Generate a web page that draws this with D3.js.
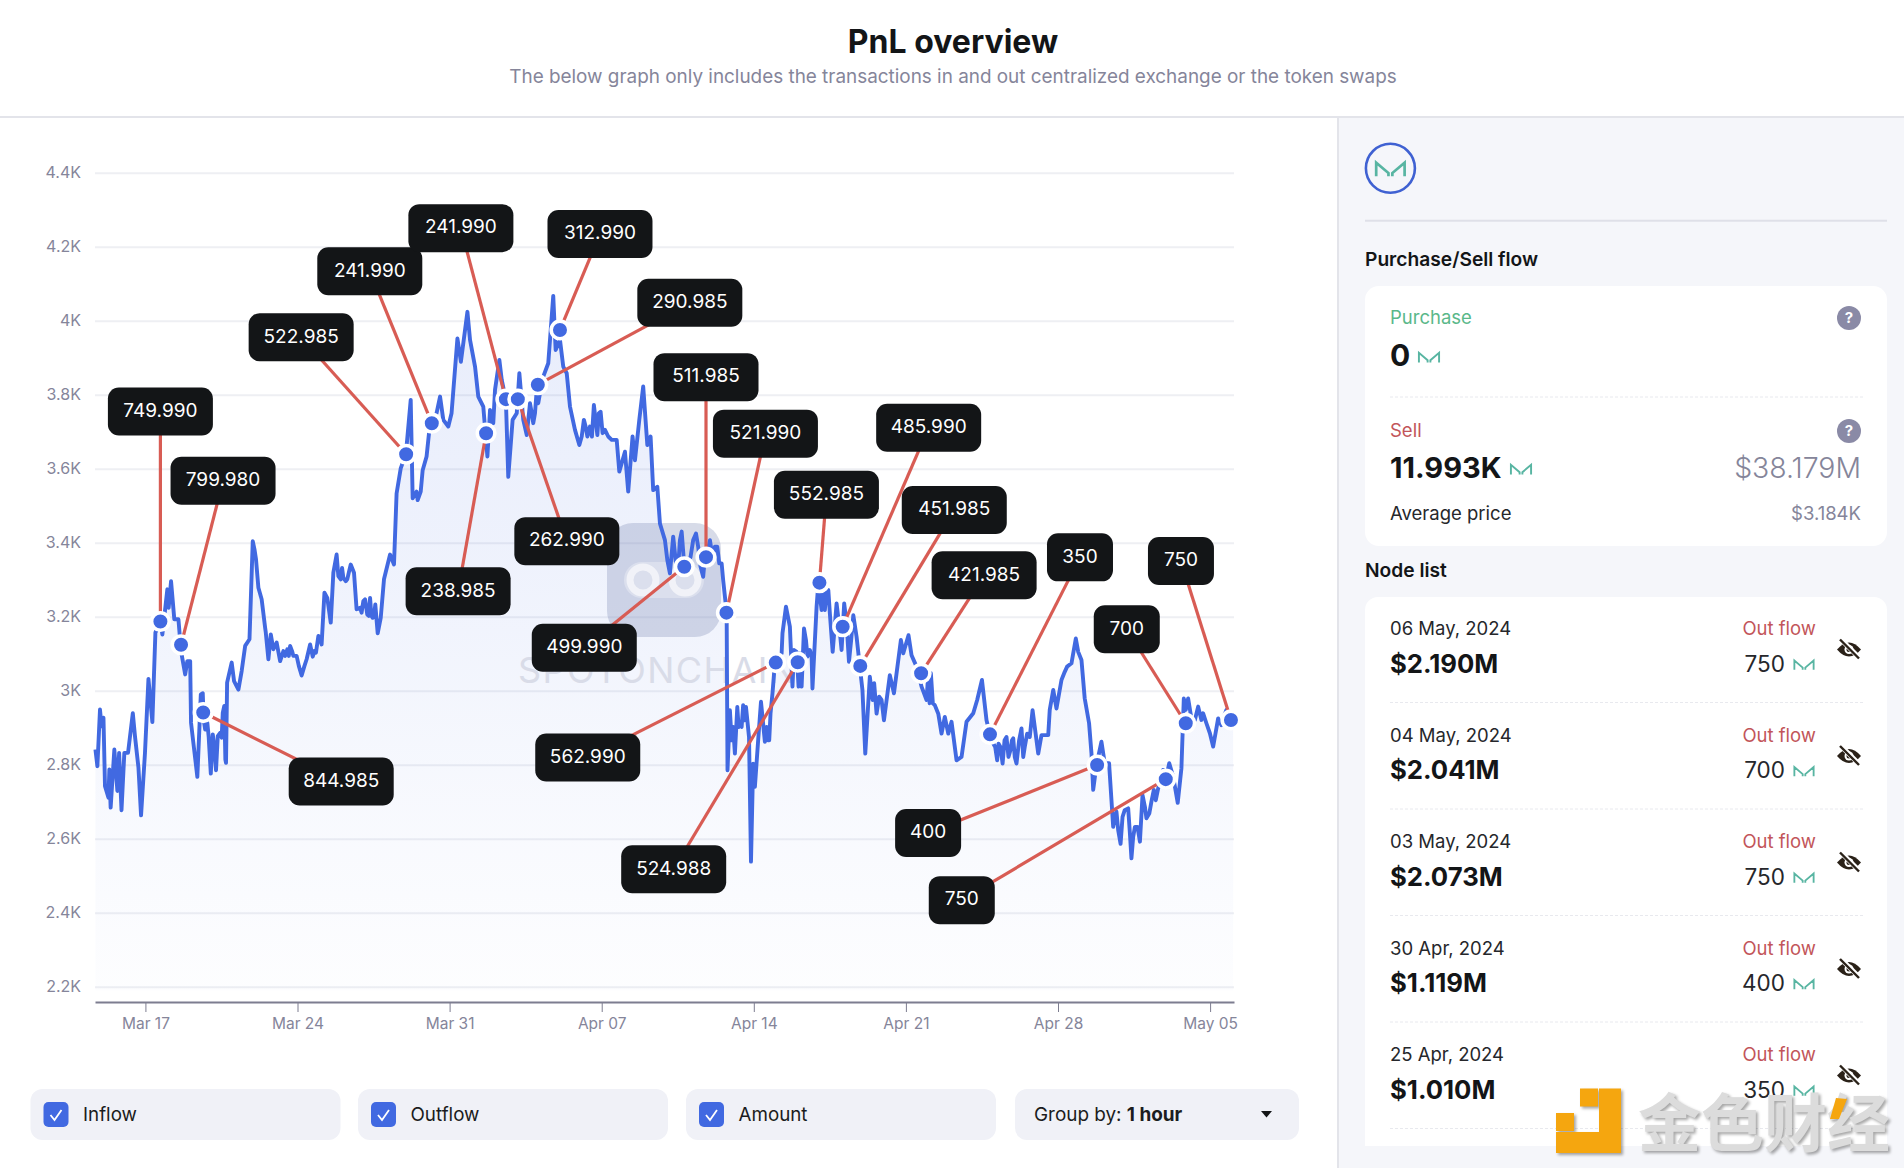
<!DOCTYPE html>
<html>
<head>
<meta charset="utf-8">
<script src="https://cdn.jsdelivr.net/npm/d3@7"></script>
<style>
  html, body { margin: 0; background: #fff; }
  svg { display: block; font-family: Inter, "Noto Sans", sans-serif; }
</style>
</head>
<body>
<svg id="pnl" width="1904" height="1168"></svg>
<script>
// Price line. Days are counted from Mar 17, 2024
const priceDay = [-2.30,-2.21,-2.09,-2.02,-1.93,-1.86,-1.70,-1.66,-1.60,-1.43,-1.29,-1.21,-1.10,-0.97,-0.80,-0.58,-0.48,-0.32,-0.20,-0.02,0.14,0.32,0.46,0.69,0.78,1.01,1.07,1.18,1.33,1.52,1.64,1.83,1.93,2.06,2.10,2.39,2.55,2.64,2.75,2.85,3.01,3.10,3.25,3.33,3.51,3.56,3.71,3.76,3.97,4.08,4.28,4.43,4.59,4.79,4.94,5.02,5.09,5.20,5.35,5.51,5.66,5.77,5.89,6.04,6.20,6.35,6.66,6.81,6.96,7.19,7.42,7.58,7.70,7.85,7.96,8.11,8.24,8.37,8.53,8.65,8.80,8.99,9.05,9.22,9.45,9.60,9.72,10.03,10.21,10.34,10.46,10.58,10.69,10.83,10.98,11.26,11.44,
  11.56,11.75,11.99,12.21,12.30,12.48,12.53,12.67,12.76,12.94,13.10,13.40,13.56,13.71,13.94,14.09,14.36,14.52,14.82,14.94,15.17,15.32,15.55,15.74,15.86,16.01,16.09,16.29,16.40,16.59,16.70,16.90,17.09,17.21,17.39,17.55,17.70,17.85,18.01,18.31,18.54,18.77,18.88,19.08,19.23,19.39,19.54,19.77,19.97,20.18,20.34,20.64,20.80,20.95,21.15,21.46,21.69,21.81,22.07,22.22,22.42,22.53,22.73,22.91,23.10,23.25,23.37,23.56,23.68,23.91,24.14,24.29,24.52,24.68,24.91,25.09,25.34,25.67,25.83,26.21,26.52,26.59,26.75,
  26.79,26.90,27.05,27.13,27.24,27.36,27.51,27.64,27.78,27.87,27.97,28.05,28.20,28.33,28.51,28.71,28.86,28.97,29.28,29.32,29.48,29.66,29.78,29.97,30.20,30.31,30.58,30.70,30.89,30.97,31.12,31.43,31.63,31.81,32.04,32.16,32.38,32.58,32.73,32.88,33.00,33.13,33.34,33.65,33.77,33.99,34.26,34.45,34.77,34.88,35.12,35.26,35.49,35.72,35.95,36.15,36.33,36.64,36.79,37.10,37.33,37.56,37.79,38.10,38.28,38.50,38.71,38.86,39.02,39.20,39.35,39.45,39.63,39.81,39.94,40.09,40.32,40.47,40.70,40.83,41.09,
  41.24,41.55,41.62,41.78,41.93,42.16,42.31,42.42,42.62,42.82,42.93,43.08,43.23,43.43,43.54,43.62,43.77,44.00,44.15,44.35,44.54,44.69,44.88,45.07,45.23,45.38,45.54,45.77,45.89,46.07,46.30,46.61,46.84,47.12,47.30,47.51,47.68,47.79,47.99,48.14,48.45,48.60,48.83,49.14,49.37,49.52,49.75,50.06];
const priceValue = [2841,2796,2949,2904,2927,2742,2711,2787,2684,2841,2729,2832,2677,2832,2832,2939,2877,2792,2663,2832,3032,2915,3157,3188,3152,3274,3224,3296,3193,3193,3107,3044,3080,3080,2913,2767,2990,2993,2895,2913,2776,2882,2785,2877,2873,2940,2805,3022,3076,3026,3003,3053,3121,3139,3404,3382,3355,3278,3247,3170,3085,3152,3112,3130,3080,3107,3121,3094,3094,3041,3085,3125,3092,3103,3148,3125,3265,3251,3184,3319,3368,3301,3332,3296,3341,3319,3220,3242,3206,3251,3197,3233,3155,3197,3301,3368,3341,
  3533,3601,3641,3786,3520,3538,3515,3538,3596,3633,3723,3750,3795,3732,3714,3750,3952,3889,4024,3948,3876,3795,3768,3633,3759,3723,3813,3894,3840,3786,3578,3732,3750,3858,3732,3691,3777,3723,3813,3849,3885,4067,3921,3948,3876,3858,3768,3705,3664,3732,3687,3772,3691,3754,3705,3678,3678,3592,3646,3538,3687,3623,3732,3822,3664,3687,3542,3551,3452,3407,3317,3416,3335,3430,3335,3362,3425,3308,3362,3389,3344,3299,3211,
  2785,2947,2902,2830,2956,2911,2961,2956,2875,2538,2803,2740,2866,2970,2862,2866,2993,3074,3101,3155,3227,3173,3011,3105,3011,3168,3110,3006,3227,3290,3218,3272,3105,3236,3110,3236,3078,3204,3146,3065,3002,2830,3038,2938,2984,2920,3042,2993,3137,3101,3150,3096,3065,3011,2975,3047,2961,2884,2929,2916,2812,2821,2916,2939,2975,3029,2920,2884,2857,2812,2848,2803,2875,2839,2871,2803,2898,2848,2875,2947,2830,
  2880,2880,2948,3002,2952,3029,3051,3065,3074,3141,3105,3083,2979,2912,2831,2732,2799,2862,2804,2804,2632,2673,2586,2677,2682,2547,2632,2592,2718,2655,2700,2736,2786,2804,2768,2697,2790,2979,2979,2925,2957,2921,2912,2849,2925,2907,2948,2921];

// second pass of readings on the busier stretches of the line
const detailDay = [2.68,2.91,3.17,3.44,3.63,3.68,5.54,6.43,6.53,6.60,6.75,7.06,7.32,7.78,8.04,8.88,9.11,9.29,9.36,9.88,9.95,10.11,10.28,10.40,10.52,
  17.78,17.93,18.08,18.16,20.08,20.26,20.46,20.55,20.72,20.87,21.04,21.30,24.02,24.42,24.60,24.78,24.98,25.21,25.44,25.55,25.75,25.98,26.10,26.32,26.41,
  26.98,27.30,27.44,27.58,28.59,28.65,28.77,29.85,30.06,30.12,30.40,30.47,30.66,31.20,31.27,31.35,31.50,31.92,32.27,32.48,33.47,33.54,33.88,36.03,36.09,36.24,36.49,36.95,
  39.11,39.26,39.54,39.72,39.88,40.01,40.21,40.40,40.58,44.62,44.77,44.97,45.31,45.46,45.66,46.00,46.20,46.41,46.50,46.99,47.88,48.30,48.68,48.99,49.25,49.63];
const detailValue = [2922,2877,2850,2886,2959,2814,3157,3094,3112,3094,3107,3067,3067,3107,3143,3310,3305,3301,3319,3224,3211,3247,3202,3202,3202,
  3750,3750,3777,3804,3687,3714,3714,3687,3732,3750,3696,3687,3353,3344,3407,3353,3344,3407,3389,3335,3362,3407,3362,3389,3344,
  2866,2902,2902,2920,2902,2866,2939,3110,3011,3101,3137,3092,3092,3263,3218,3272,3209,3182,3182,3137,2975,3020,2975,3047,2966,2966,2938,2884,
  2848,2857,2866,2821,2866,2821,2866,2821,2884,2659,2623,2659,2614,2605,2632,2686,2668,2732,2704,2768,2948,2921,2939,2885,2885,2930];

// Exchange deposits marked on the line
const nodeDay = [0.69,1.64,2.66,12.00,13.18,15.68,16.59,17.14,18.06,19.08,24.80,25.80,26.74,29.01,30.02,31.02,32.09,32.90,35.70,38.87,43.80,46.96,47.88,49.96];
const nodeValue = [3187,3124,2941,3639,3723,3696,3788,3788,3827,3975,3335,3361,3211,3076,3077,3292,3173,3067,3047,2882,2799,2761,2912,2921];
const nodeAmount = ["749.990","799.980","844.985","522.985","241.990","238.985","241.990","262.990","290.985","312.990","499.990","511.985","521.990","562.990","524.988","552.985","485.990","451.985","421.985","350","400","750","700","750"];

const yTicks = [2200,2400,2600,2800,3000,3200,3400,3600,3800,4000,4200,4400];
const xTicks = [0,7,14,21,28,35,42,49];

// Side panel lists
const rowDate = ["06 May, 2024","04 May, 2024","03 May, 2024","30 Apr, 2024","25 Apr, 2024"];
const rowUsd = ["$2.190M","$2.041M","$2.073M","$1.119M","$1.010M"];
const rowAmount = ["750","700","750","400","350"];
const toggles = ["Inflow","Outflow","Amount"];

// where each callout box sits relative to its node (px)
const calloutDx = [0,42,138,-105,-62,-28,-45,49,152,40,-100,0,39,-188,-124,7,86,94,63,90,-169,-204,-59,-50];
const calloutDy = [-210,-164,69,-117,-152,158,-171,142,-82,-96,81,-180,-179,95,207,-88,-199,-156,-98,-177,68,121,-94,-159];

const BLUE = "#4169e1", RED = "#d85c54", GREY = "#85859a", TEAL = "#58b5a2", DARK = "#131517";

const svg = d3.select("#pnl");

const dayToDate = (d) => new Date(Date.UTC(2024, 2, 17) + d * 864e5);
const price = priceDay
  .map((d, i) => ({ day: d, value: priceValue[i] }))
  .concat(detailDay.map((d, i) => ({ day: d, value: detailValue[i] })))
  .sort((a, b) => d3.ascending(a.day, b.day))
  .map((p) => ({ date: dayToDate(p.day), value: p.value }));
const nodes = nodeDay.map((d, i) => ({
  date: dayToDate(d),
  value: nodeValue[i],
  amount: nodeAmount[i],
  dx: calloutDx[i],
  dy: calloutDy[i],
}));

function text(parent, x, y, str, size, fill, weight, anchor) {
  return parent
    .append("text")
    .attr("x", x)
    .attr("y", y)
    .attr("dy", "0.36em")
    .attr("font-size", size)
    .attr("font-weight", weight || 400)
    .attr("fill", fill)
    .attr("text-anchor", anchor || "start")
    .text(str);
}

// Maker mark, used in a few sizes
function makerIcon(parent, cx, cy, w) {
  parent
    .append("g")
    .attr("transform", `translate(${cx},${cy}) scale(${w / 24}) translate(-12,-6)`)
    .append("path")
    .attr("d", "M1 12V1.5L10.5 9.5V12M23 12V1.5L13.5 9.5V12")
    .attr("fill", "none")
    .attr("stroke", TEAL)
    .attr("stroke-width", 2.1);
}

function helpIcon(parent, cx, cy) {
  parent.append("circle").attr("cx", cx).attr("cy", cy).attr("r", 12).attr("fill", "#8a8aa6");
  text(parent, cx, cy, "?", 15, "#fff", 700, "middle");
}

function eyeOffIcon(parent, cx, cy) {
  const g = parent.append("g").attr("transform", `translate(${cx},${cy})`);
  g.append("path").attr("d", "M-12 0Q0 -14 12 0Q0 14 -12 0Z").attr("fill", "#2a2118");
  g.append("circle").attr("r", 4.5).attr("fill", "#fff");
  g.append("circle").attr("r", 2.5).attr("fill", "#2a2118");
  g.append("line").attr("x1", -8).attr("y1", -10).attr("x2", 10).attr("y2", 8).attr("stroke", "#fff").attr("stroke-width", 5);
  g.append("line").attr("x1", -9).attr("y1", -10).attr("x2", 10).attr("y2", 9).attr("stroke", "#2a2118").attr("stroke-width", 2.4);
}

// ---------- header ----------
text(svg, 953, 41, "PnL overview", 32, DARK, 700, "middle");
text(svg, 953, 76, "The below graph only includes the transactions in and out centralized exchange or the token swaps", 18.9, GREY, 400, "middle");
svg.append("line").attr("x1", 0).attr("x2", 1904).attr("y1", 117).attr("y2", 117).attr("stroke", "#e3e4ea").attr("stroke-width", 2);

// ---------- chart ----------
const x = d3.scaleUtc().domain([dayToDate(-2.32), dayToDate(50.1)]).range([95, 1234]);
const y = d3.scaleLinear().domain([2200, 4400]).range([986.7, 172.7]);
const axisY = 1002;

const defs = svg.append("defs");
const grad = defs
  .append("linearGradient")
  .attr("id", "areaFill")
  .attr("gradientUnits", "userSpaceOnUse")
  .attr("x1", 0)
  .attr("x2", 0)
  .attr("y1", 300)
  .attr("y2", 990);
grad.append("stop").attr("offset", 0).attr("stop-color", BLUE).attr("stop-opacity", 0.12);
grad.append("stop").attr("offset", 0.35).attr("stop-color", BLUE).attr("stop-opacity", 0.09);
grad.append("stop").attr("offset", 0.78).attr("stop-color", BLUE).attr("stop-opacity", 0.035);
grad.append("stop").attr("offset", 1).attr("stop-color", BLUE).attr("stop-opacity", 0.012);

// horizontal grid + y labels
const yAxis = svg
  .append("g")
  .attr("transform", "translate(95,0)")
  .call(
    d3.axisLeft(y)
      .tickValues(yTicks)
      .tickSize(-1139)
      .tickPadding(14)
      .tickFormat((v) => v / 1000 + "K")
  );
yAxis.select(".domain").remove();
yAxis.selectAll("line").attr("stroke", "#eeeff3").attr("stroke-width", 2);
yAxis.selectAll("text").attr("fill", GREY).attr("font-size", 16).attr("font-family", "Inter");

const xAxis = svg
  .append("g")
  .attr("transform", `translate(0,${axisY})`)
  .call(
    d3.axisBottom(x)
      .tickValues(xTicks.map(dayToDate))
      .tickSize(10)
      .tickPadding(6)
      .tickFormat(d3.utcFormat("%b %d"))
      .tickSizeOuter(0)
  );
xAxis.select(".domain").attr("stroke", "#7d7d90").attr("stroke-width", 2);
xAxis.selectAll("line").attr("stroke", "#7d7d90");
xAxis.selectAll("text").attr("fill", GREY).attr("font-size", 15.5).attr("font-family", "Inter");

// area under the price
svg
  .append("path")
  .datum(price)
  .attr("fill", "url(#areaFill)")
  .attr("d", d3.area().x((d) => x(d.date)).y0(y(2190)).y1((d) => y(d.value)));

// spot on chain watermark
const mark = svg.append("g");
mark.append("rect").attr("x", 607).attr("y", 523).attr("width", 114).attr("height", 114).attr("rx", 26).attr("fill", "#7a88b2").attr("opacity", 0.3);
mark.append("rect").attr("x", 624).attr("y", 562).attr("width", 80).attr("height", 36).attr("rx", 18).attr("fill", "#fff").attr("opacity", 0.3);
[643, 685].forEach((cx) => {
  mark.append("circle").attr("cx", cx).attr("cy", 580).attr("r", 13).attr("fill", "none").attr("stroke", "#fff").attr("stroke-opacity", 0.6).attr("stroke-width", 7);
});
mark
  .append("text")
  .attr("x", 518)
  .attr("y", 683)
  .attr("textLength", 278)
  .attr("font-size", 36)
  .attr("fill", "#d9dce8")
  .text("SPOTONCHAIN");

svg
  .append("path")
  .datum(price)
  .attr("fill", "none")
  .attr("stroke", BLUE)
  .attr("stroke-width", 3.9)
  .attr("stroke-linejoin", "round")
  .attr("d", d3.line().x((d) => x(d.date)).y((d) => y(d.value)));

// callout leaders
svg
  .append("g")
  .selectAll("line")
  .data(nodes)
  .join("line")
  .attr("x1", (d) => x(d.date))
  .attr("y1", (d) => y(d.value))
  .attr("x2", (d) => x(d.date) + d.dx)
  .attr("y2", (d) => y(d.value) + d.dy)
  .attr("stroke", RED)
  .attr("stroke-width", 3.2);

// node dots
svg
  .append("g")
  .selectAll("circle")
  .data(nodes)
  .join("circle")
  .attr("cx", (d) => x(d.date))
  .attr("cy", (d) => y(d.value))
  .attr("r", 8.8)
  .attr("fill", BLUE)
  .attr("stroke", "#fff")
  .attr("stroke-width", 3.6);

// callout boxes
const callout = svg
  .append("g")
  .selectAll("g")
  .data(nodes)
  .join("g")
  .attr("transform", (d) => `translate(${x(d.date) + d.dx},${y(d.value) + d.dy})`);
const calloutWidth = (d) => (d.amount.length > 3 ? 105 : 66);
callout
  .append("rect")
  .attr("x", (d) => -calloutWidth(d) / 2)
  .attr("y", -24)
  .attr("width", calloutWidth)
  .attr("height", 48)
  .attr("rx", 11)
  .attr("fill", DARK);
callout
  .append("text")
  .attr("text-anchor", "middle")
  .attr("dy", "0.36em")
  .attr("y", -1.5)
  .attr("font-size", 19)
  .attr("fill", "#fff")
  .text((d) => d.amount);

// ---------- toggles under the chart ----------
const pillX = [30.5, 358, 686];
toggles.forEach((t, i) => {
  svg.append("rect").attr("x", pillX[i]).attr("y", 1089).attr("width", 310).attr("height", 51).attr("rx", 12).attr("fill", "#f0f1f7");
  svg.append("rect").attr("x", pillX[i] + 13).attr("y", 1102).attr("width", 25).attr("height", 25).attr("rx", 5).attr("fill", BLUE);
  svg
    .append("path")
    .attr("d", `M${pillX[i] + 20} 1115l4 5l7 -10`)
    .attr("fill", "none")
    .attr("stroke", "#fff")
    .attr("stroke-width", 1.8);
  text(svg, pillX[i] + 52.5, 1114, t, 18.8, "#1b1c20");
});
svg.append("rect").attr("x", 1015).attr("y", 1089).attr("width", 284).attr("height", 51).attr("rx", 12).attr("fill", "#f0f1f7");
const groupBy = text(svg, 1034, 1114, "Group by: ", 18.9, "#1b1c20");
groupBy.append("tspan").attr("font-weight", 700).text("1 hour");
svg.append("path").attr("d", "M1261 1111h11l-5.5 6.5z").attr("fill", DARK);

// ---------- side panel ----------
svg.append("rect").attr("x", 1338).attr("y", 118).attr("width", 566).attr("height", 1050).attr("fill", "#f5f6fa");
svg.append("line").attr("x1", 1338).attr("x2", 1338).attr("y1", 118).attr("y2", 1168).attr("stroke", "#e3e4ea").attr("stroke-width", 2);

svg.append("circle").attr("cx", 1390.4).attr("cy", 168.3).attr("r", 24.5).attr("fill", "none").attr("stroke", "#3f61d2").attr("stroke-width", 2.6);
makerIcon(svg, 1390.4, 168.5, 31);
svg.append("line").attr("x1", 1365).attr("x2", 1887).attr("y1", 220.7).attr("y2", 220.7).attr("stroke", "#dfe0e8").attr("stroke-width", 2);

text(svg, 1365, 259, "Purchase/Sell flow", 19.2, DARK, 600);
svg.append("rect").attr("x", 1365).attr("y", 286).attr("width", 522).attr("height", 260).attr("rx", 14).attr("fill", "#fff");
text(svg, 1390, 317, "Purchase", 18.5, "#5ab88a");
helpIcon(svg, 1849, 318);
text(svg, 1390, 355, "0", 30, DARK, 700);
makerIcon(svg, 1429, 357, 22);
svg.append("line").attr("x1", 1390).attr("x2", 1863).attr("y1", 397).attr("y2", 397).attr("stroke", "#e8e9ee").attr("stroke-dasharray", "3 2");
text(svg, 1390, 430, "Sell", 18.5, "#c2555a");
helpIcon(svg, 1849, 431);
text(svg, 1390, 468, "11.993K", 29, DARK, 700);
makerIcon(svg, 1521, 469, 22);
text(svg, 1861, 468, "$38.179M", 28.4, GREY, 300, "end");
text(svg, 1390, 513, "Average price", 18.5, "#26272b");
text(svg, 1861, 513, "$3.184K", 18.5, GREY, 400, "end");

text(svg, 1365, 570, "Node list", 19.2, DARK, 600);
svg.append("path").attr("d", "M1365 1146V610a13 13 0 0 1 13 -13H1874a13 13 0 0 1 13 13V1146Z").attr("fill", "#fff");

rowDate.forEach((date, i) => {
  const top = 628.5 + i * 106.5;
  text(svg, 1390, top, date, 18.5, "#26272b");
  text(svg, 1816, top, "Out flow", 18.5, "#c2555a", 400, "end");
  text(svg, 1390, top + 35, rowUsd[i], 25.7, DARK, 700);
  text(svg, 1785, top + 35, rowAmount[i], 22.5, "#26272b", 400, "end");
  makerIcon(svg, 1804, top + 36, 21);
  eyeOffIcon(svg, 1849, top + 21);
  svg.append("line").attr("x1", 1390).attr("x2", 1863).attr("y1", top + 74).attr("y2", top + 74).attr("stroke", "#e8e9ee").attr("stroke-dasharray", "3 2");
});

// ---------- jinse watermark ----------
const jinse = svg.append("g").style("filter", "drop-shadow(2px 2px 1.5px rgba(0,0,0,.35))");
jinse.append("path").attr("d", "M1599 1088.5H1621V1153H1556V1132H1599Z").attr("fill", "#f5a60f");
jinse.append("rect").attr("x", 1580).attr("y", 1088.5).attr("width", 18).attr("height", 18).attr("fill", "#f5a60f");
jinse.append("rect").attr("x", 1556).attr("y", 1113).attr("width", 18).attr("height", 18).attr("fill", "#f5a60f");
jinse
  .append("text")
  .attr("x", 1638)
  .attr("y", 1146)
  .attr("font-family", "'Noto Sans CJK SC'")
  .attr("font-size", 63)
  .attr("font-weight", 700)
  .attr("fill", "#dcdcdc")
  .text("金色财经");
jinse.append("path").attr("d", "M1836 1098l11 1l-8 20h-9z").attr("fill", "#f5a60f");
</script>
</body>
</html>
